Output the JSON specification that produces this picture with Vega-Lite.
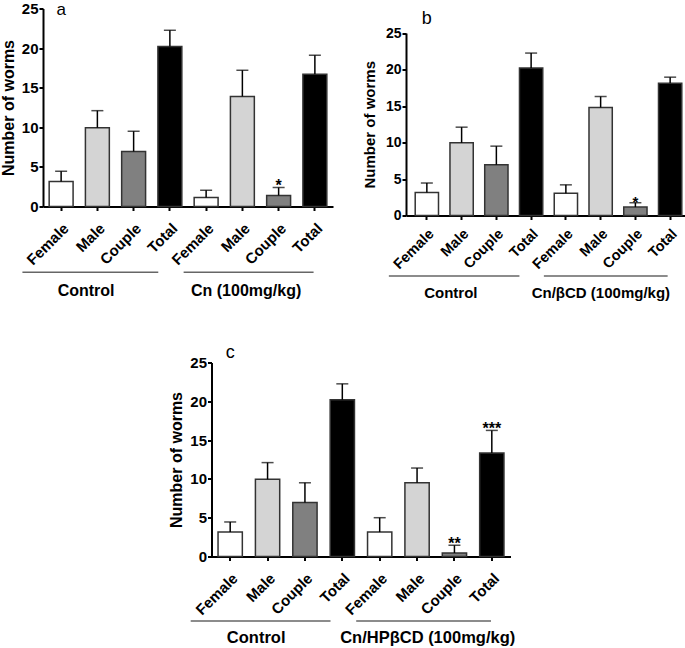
{
"$schema": "https://vega.github.io/schema/vega-lite/v6.json",
"padding": {"left": 0, "top": 0.5, "right": 0, "bottom": 0},
"spacing": 42,
"center": true,
"config": {
 "font": "Liberation Sans",
 "view": {"stroke": null},
 "axis": {"domainColor": "#000", "domainWidth": 2, "tickColor": "#000", "tickWidth": 2, "tickSize": 4, "labelColor": "#000", "labelFontWeight": "bold", "titleColor": "#000", "titleFontWeight": "bold", "grid": false, "labelFont": "Liberation Sans", "titleFont": "Liberation Sans"},
 "axisX": {"labelAngle": -45, "labelPadding": 10},
 "axisY": {"labelPadding": 1, "titlePadding": 5, "labelOverlap": false},
 "text": {"font": "Liberation Sans"}
},
"datasets": {
 "bars": [
  {"panel": "a", "id": "C|Female", "sex": "Female", "mean": 3.15, "upper": 4.45, "sig": ""},
  {"panel": "a", "id": "C|Male", "sex": "Male", "mean": 9.95, "upper": 12.1, "sig": ""},
  {"panel": "a", "id": "C|Couple", "sex": "Couple", "mean": 6.95, "upper": 9.5, "sig": ""},
  {"panel": "a", "id": "C|Total", "sex": "Total", "mean": 20.2, "upper": 22.25, "sig": ""},
  {"panel": "a", "id": "T|Female", "sex": "Female", "mean": 1.15, "upper": 2.05, "sig": ""},
  {"panel": "a", "id": "T|Male", "sex": "Male", "mean": 13.9, "upper": 17.2, "sig": ""},
  {"panel": "a", "id": "T|Couple", "sex": "Couple", "mean": 1.4, "upper": 2.4, "sig": "*"},
  {"panel": "a", "id": "T|Total", "sex": "Total", "mean": 16.7, "upper": 19.1, "sig": ""},
  {"panel": "b", "id": "C|Female", "sex": "Female", "mean": 3.15, "upper": 4.45, "sig": ""},
  {"panel": "b", "id": "C|Male", "sex": "Male", "mean": 9.95, "upper": 12.1, "sig": ""},
  {"panel": "b", "id": "C|Couple", "sex": "Couple", "mean": 6.95, "upper": 9.5, "sig": ""},
  {"panel": "b", "id": "C|Total", "sex": "Total", "mean": 20.2, "upper": 22.25, "sig": ""},
  {"panel": "b", "id": "T|Female", "sex": "Female", "mean": 3.05, "upper": 4.2, "sig": ""},
  {"panel": "b", "id": "T|Male", "sex": "Male", "mean": 14.8, "upper": 16.3, "sig": ""},
  {"panel": "b", "id": "T|Couple", "sex": "Couple", "mean": 1.15, "upper": 1.75, "sig": "*"},
  {"panel": "b", "id": "T|Total", "sex": "Total", "mean": 18.1, "upper": 18.95, "sig": ""},
  {"panel": "c", "id": "C|Female", "sex": "Female", "mean": 3.15, "upper": 4.45, "sig": ""},
  {"panel": "c", "id": "C|Male", "sex": "Male", "mean": 9.95, "upper": 12.1, "sig": ""},
  {"panel": "c", "id": "C|Couple", "sex": "Couple", "mean": 6.95, "upper": 9.5, "sig": ""},
  {"panel": "c", "id": "C|Total", "sex": "Total", "mean": 20.2, "upper": 22.25, "sig": ""},
  {"panel": "c", "id": "T|Female", "sex": "Female", "mean": 3.15, "upper": 5.0, "sig": ""},
  {"panel": "c", "id": "T|Male", "sex": "Male", "mean": 9.5, "upper": 11.4, "sig": ""},
  {"panel": "c", "id": "T|Couple", "sex": "Couple", "mean": 0.45, "upper": 1.45, "sig": "**"},
  {"panel": "c", "id": "T|Total", "sex": "Total", "mean": 13.35, "upper": 16.25, "sig": "***"}
 ],
 "groups": [
  {"panel": "a", "grp": "C", "label": "Control", "first": "C|Female", "last": "C|Total"},
  {"panel": "a", "grp": "T", "label": "Cn (100mg/kg)", "first": "T|Female", "last": "T|Total"},
  {"panel": "b", "grp": "C", "label": "Control", "first": "C|Female", "last": "C|Total"},
  {"panel": "b", "grp": "T", "label": "Cn/βCD (100mg/kg)", "first": "T|Female", "last": "T|Total"},
  {"panel": "c", "grp": "C", "label": "Control", "first": "C|Female", "last": "C|Total"},
  {"panel": "c", "grp": "T", "label": "Cn/HPβCD (100mg/kg)", "first": "T|Female", "last": "T|Total"}
 ]
},
"vconcat": [
 {"hconcat": [
  {"width": 290, "height": 198,
   "layer": [
    {"data": {"name": "bars"}, "transform": [{"filter": "datum.panel==='a'"}],
     "mark": {"type": "bar", "width": {"band": 0.66}, "stroke": "#333", "strokeWidth": 1.5},
     "encoding": {
      "x": {"field": "id", "type": "nominal", "title": null, "scale": {"domain": ["C|Female","C|Male","C|Couple","C|Total","T|Female","T|Male","T|Couple","T|Total"], "paddingInner": 0, "paddingOuter": 0}, "axis": {"labelExpr": "split(datum.label,'|')[1]", "labelFontSize": 15}},
      "y": {"field": "mean", "type": "quantitative", "title": "Number of worms", "scale": {"domain": [0, 25], "nice": false}, "axis": {"values": [0,5,10,15,20,25], "tickCount": 6, "labelFontSize": 15, "titleFontSize": 16}},
      "color": {"field": "sex", "type": "nominal", "scale": {"domain": ["Female","Male","Couple","Total"], "range": ["#ffffff","#d4d4d4","#808080","#000000"]}, "legend": null}
     }},
    {"data": {"name": "bars"}, "transform": [{"filter": "datum.panel==='a'"}],
     "mark": {"type": "rule", "color": "#000", "strokeWidth": 1.5},
     "encoding": {"x": {"field": "id", "type": "nominal", "title": null}, "y": {"field": "mean", "type": "quantitative", "title": "Number of worms", "axis": {"values": [0,5,10,15,20,25], "tickCount": 6, "labelFontSize": 15, "titleFontSize": 16}}, "y2": {"field": "upper"}}},
    {"data": {"name": "bars"}, "transform": [{"filter": "datum.panel==='a'"}],
     "mark": {"type": "tick", "color": "#000", "size": 12, "thickness": 1.5, "orient": "horizontal"},
     "encoding": {"x": {"field": "id", "type": "nominal", "title": null}, "y": {"field": "upper", "type": "quantitative", "title": "Number of worms", "axis": {"values": [0,5,10,15,20,25], "tickCount": 6, "labelFontSize": 15, "titleFontSize": 16}}}},
    {"data": {"name": "bars"}, "transform": [{"filter": "datum.panel==='a' && datum.sig!==''"}],
     "mark": {"type": "text", "fontSize": 16, "fontWeight": "bold", "baseline": "alphabetic", "dy": 4, "color": "#000"},
     "encoding": {"x": {"field": "id", "type": "nominal", "title": null}, "y": {"field": "upper", "type": "quantitative", "title": "Number of worms", "axis": {"values": [0,5,10,15,20,25], "tickCount": 6, "labelFontSize": 15, "titleFontSize": 16}}, "text": {"field": "sig"}}},
    {"data": {"name": "groups"}, "transform": [{"filter": "datum.panel==='a' && datum.grp==='C'"}],
     "mark": {"type": "rule", "color": "#666", "strokeWidth": 1.5, "xOffset": -38.7, "x2Offset": -11.6},
     "encoding": {"x": {"field": "first", "type": "nominal", "title": null}, "x2": {"field": "last"}, "y": {"datum": -8.3, "type": "quantitative", "title": "Number of worms", "axis": {"values": [0,5,10,15,20,25], "tickCount": 6, "labelFontSize": 15, "titleFontSize": 16}}}},
    {"data": {"name": "groups"}, "transform": [{"filter": "datum.panel==='a' && datum.grp==='T'"}],
     "mark": {"type": "rule", "color": "#666", "strokeWidth": 1.5, "xOffset": -22.5, "x2Offset": -1.3},
     "encoding": {"x": {"field": "first", "type": "nominal", "title": null}, "x2": {"field": "last"}, "y": {"datum": -8.3, "type": "quantitative", "title": "Number of worms", "axis": {"values": [0,5,10,15,20,25], "tickCount": 6, "labelFontSize": 15, "titleFontSize": 16}}}},
    {"data": {"name": "groups"}, "transform": [{"filter": "datum.panel==='a' && datum.grp==='C'"}],
     "mark": {"type": "text", "fontSize": 16, "fontWeight": "bold", "color": "#000", "dx": 25, "baseline": "alphabetic", "align": "center"},
     "encoding": {"x": {"field": "first", "type": "nominal", "title": null}, "y": {"datum": -11.3, "type": "quantitative", "title": "Number of worms", "axis": {"values": [0,5,10,15,20,25], "tickCount": 6, "labelFontSize": 15, "titleFontSize": 16}}, "text": {"field": "label"}}},
    {"data": {"name": "groups"}, "transform": [{"filter": "datum.panel==='a' && datum.grp==='T'"}],
     "mark": {"type": "text", "fontSize": 16, "fontWeight": "bold", "color": "#000", "dx": 40, "baseline": "alphabetic", "align": "center"},
     "encoding": {"x": {"field": "first", "type": "nominal", "title": null}, "y": {"datum": -11.3, "type": "quantitative", "title": "Number of worms", "axis": {"values": [0,5,10,15,20,25], "tickCount": 6, "labelFontSize": 15, "titleFontSize": 16}}, "text": {"field": "label"}}},
    {"data": {"values": [{"letter": "a"}]},
     "mark": {"type": "text", "fontSize": 17, "baseline": "alphabetic", "align": "center", "color": "#000"},
     "encoding": {"x": {"datum": "C|Female", "type": "nominal", "title": null}, "y": {"datum": 24.12, "type": "quantitative", "title": "Number of worms", "axis": {"values": [0,5,10,15,20,25], "tickCount": 6, "labelFontSize": 15, "titleFontSize": 16}}, "text": {"field": "letter"}}}
   ]},
  {"width": 285, "height": 207,
   "layer": [
    {"data": {"name": "bars"}, "transform": [{"filter": "datum.panel==='b'"}],
     "mark": {"type": "bar", "width": {"band": 0.67}, "stroke": "#333", "strokeWidth": 1.5},
     "encoding": {
      "x": {"field": "id", "type": "nominal", "title": null, "scale": {"domain": ["C|Female","C|Male","C|Couple","C|Total","T|Female","T|Male","T|Couple","T|Total"], "paddingInner": 0, "paddingOuter": 0.1}, "axis": {"labelExpr": "split(datum.label,'|')[1]", "labelFontSize": 14.5, "labelPadding": 7}},
      "y": {"field": "mean", "type": "quantitative", "title": "Number of worms", "scale": {"domain": [0, 25], "nice": false, "range": [207, 24.5]}, "axis": {"values": [0,5,10,15,20,25], "labelFontSize": 14, "titleFontSize": 15, "titlePadding": 8}},
      "color": {"field": "sex", "type": "nominal", "scale": {"domain": ["Female","Male","Couple","Total"], "range": ["#ffffff","#d4d4d4","#808080","#000000"]}, "legend": null}
     }},
    {"data": {"name": "bars"}, "transform": [{"filter": "datum.panel==='b'"}],
     "mark": {"type": "rule", "color": "#000", "strokeWidth": 1.5},
     "encoding": {"x": {"field": "id", "type": "nominal", "title": null}, "y": {"field": "mean", "type": "quantitative", "title": "Number of worms"}, "y2": {"field": "upper"}}},
    {"data": {"name": "bars"}, "transform": [{"filter": "datum.panel==='b'"}],
     "mark": {"type": "tick", "color": "#000", "size": 12, "thickness": 1.5, "orient": "horizontal"},
     "encoding": {"x": {"field": "id", "type": "nominal", "title": null}, "y": {"field": "upper", "type": "quantitative", "title": "Number of worms"}}},
    {"data": {"name": "bars"}, "transform": [{"filter": "datum.panel==='b' && datum.sig!==''"}],
     "mark": {"type": "text", "fontSize": 15, "fontWeight": "bold", "baseline": "alphabetic", "dy": 4, "color": "#000"},
     "encoding": {"x": {"field": "id", "type": "nominal", "title": null}, "y": {"field": "upper", "type": "quantitative", "title": "Number of worms"}, "text": {"field": "sig"}}},
    {"data": {"name": "groups"}, "transform": [{"filter": "datum.panel==='b' && datum.grp==='C'"}],
     "mark": {"type": "rule", "color": "#666", "strokeWidth": 1.5, "xOffset": -38, "x2Offset": -11.7},
     "encoding": {"x": {"field": "first", "type": "nominal", "title": null}, "x2": {"field": "last"}, "y": {"datum": -8.3, "type": "quantitative", "title": "Number of worms"}}},
    {"data": {"name": "groups"}, "transform": [{"filter": "datum.panel==='b' && datum.grp==='T'"}],
     "mark": {"type": "rule", "color": "#666", "strokeWidth": 1.5, "xOffset": -22, "x2Offset": -2.5},
     "encoding": {"x": {"field": "first", "type": "nominal", "title": null}, "x2": {"field": "last"}, "y": {"datum": -8.3, "type": "quantitative", "title": "Number of worms"}}},
    {"data": {"name": "groups"}, "transform": [{"filter": "datum.panel==='b' && datum.grp==='C'"}],
     "mark": {"type": "text", "fontSize": 15, "fontWeight": "bold", "color": "#000", "dx": 24, "baseline": "alphabetic", "align": "center"},
     "encoding": {"x": {"field": "first", "type": "nominal", "title": null}, "y": {"datum": -11.3, "type": "quantitative", "title": "Number of worms"}, "text": {"field": "label"}}},
    {"data": {"name": "groups"}, "transform": [{"filter": "datum.panel==='b' && datum.grp==='T'"}],
     "mark": {"type": "text", "fontSize": 15, "fontWeight": "bold", "color": "#000", "dx": 35, "baseline": "alphabetic", "align": "center"},
     "encoding": {"x": {"field": "first", "type": "nominal", "title": null}, "y": {"datum": -11.3, "type": "quantitative", "title": "Number of worms"}, "text": {"field": "label"}}},
    {"data": {"values": [{"letter": "b"}]},
     "mark": {"type": "text", "fontSize": 18, "baseline": "alphabetic", "align": "center", "color": "#000"},
     "encoding": {"x": {"datum": "C|Female", "type": "nominal", "title": null}, "y": {"datum": 26.23, "type": "quantitative", "title": "Number of worms"}, "text": {"field": "letter"}}}
   ]}
 ], "spacing": 29},
 {"width": 311, "height": 194,
  "layer": [
   {"data": {"name": "bars"}, "transform": [{"filter": "datum.panel==='c'"}],
    "mark": {"type": "bar", "width": {"band": 0.65}, "stroke": "#333", "strokeWidth": 1.5},
    "encoding": {
     "x": {"field": "id", "type": "nominal", "title": null, "scale": {"domain": ["C|Female","C|Male","C|Couple","C|Total","T|Female","T|Male","T|Couple","T|Total"], "paddingInner": 0, "paddingOuter": 0, "range": [0, 299]}, "axis": {"labelExpr": "split(datum.label,'|')[1]", "labelFontSize": 15}},
     "y": {"field": "mean", "type": "quantitative", "title": "Number of worms", "scale": {"domain": [0, 25], "nice": false}, "axis": {"values": [0,5,10,15,20,25], "tickCount": 6, "labelFontSize": 15, "titleFontSize": 16}},
     "color": {"field": "sex", "type": "nominal", "scale": {"domain": ["Female","Male","Couple","Total"], "range": ["#ffffff","#d4d4d4","#808080","#000000"]}, "legend": null}
    }},
   {"data": {"name": "bars"}, "transform": [{"filter": "datum.panel==='c'"}],
    "mark": {"type": "rule", "color": "#000", "strokeWidth": 1.5},
    "encoding": {"x": {"field": "id", "type": "nominal", "title": null}, "y": {"field": "mean", "type": "quantitative", "title": "Number of worms", "axis": {"values": [0,5,10,15,20,25], "tickCount": 6, "labelFontSize": 15, "titleFontSize": 16}}, "y2": {"field": "upper"}}},
   {"data": {"name": "bars"}, "transform": [{"filter": "datum.panel==='c'"}],
    "mark": {"type": "tick", "color": "#000", "size": 12, "thickness": 1.5, "orient": "horizontal"},
    "encoding": {"x": {"field": "id", "type": "nominal", "title": null}, "y": {"field": "upper", "type": "quantitative", "title": "Number of worms", "axis": {"values": [0,5,10,15,20,25], "tickCount": 6, "labelFontSize": 15, "titleFontSize": 16}}}},
   {"data": {"name": "bars"}, "transform": [{"filter": "datum.panel==='c' && datum.sig!==''"}],
    "mark": {"type": "text", "fontSize": 16, "fontWeight": "bold", "baseline": "alphabetic", "dy": 4, "color": "#000"},
    "encoding": {"x": {"field": "id", "type": "nominal", "title": null}, "y": {"field": "upper", "type": "quantitative", "title": "Number of worms", "axis": {"values": [0,5,10,15,20,25], "tickCount": 6, "labelFontSize": 15, "titleFontSize": 16}}, "text": {"field": "sig"}}},
   {"data": {"name": "groups"}, "transform": [{"filter": "datum.panel==='c' && datum.grp==='C'"}],
    "mark": {"type": "rule", "color": "#666", "strokeWidth": 1.5, "xOffset": -39.5, "x2Offset": -11.8},
    "encoding": {"x": {"field": "first", "type": "nominal", "title": null}, "x2": {"field": "last"}, "y": {"datum": -8.3, "type": "quantitative", "title": "Number of worms", "axis": {"values": [0,5,10,15,20,25], "tickCount": 6, "labelFontSize": 15, "titleFontSize": 16}}}},
   {"data": {"name": "groups"}, "transform": [{"filter": "datum.panel==='c' && datum.grp==='T'"}],
    "mark": {"type": "rule", "color": "#666", "strokeWidth": 1.5, "xOffset": -23.5, "x2Offset": -0.8},
    "encoding": {"x": {"field": "first", "type": "nominal", "title": null}, "x2": {"field": "last"}, "y": {"datum": -8.3, "type": "quantitative", "title": "Number of worms", "axis": {"values": [0,5,10,15,20,25], "tickCount": 6, "labelFontSize": 15, "titleFontSize": 16}}}},
   {"data": {"name": "groups"}, "transform": [{"filter": "datum.panel==='c' && datum.grp==='C'"}],
    "mark": {"type": "text", "fontSize": 16.5, "fontWeight": "bold", "color": "#000", "dx": 26, "baseline": "alphabetic", "align": "center"},
    "encoding": {"x": {"field": "first", "type": "nominal", "title": null}, "y": {"datum": -11.2, "type": "quantitative", "title": "Number of worms", "axis": {"values": [0,5,10,15,20,25], "tickCount": 6, "labelFontSize": 15, "titleFontSize": 16}}, "text": {"field": "label"}}},
   {"data": {"name": "groups"}, "transform": [{"filter": "datum.panel==='c' && datum.grp==='T'"}],
    "mark": {"type": "text", "fontSize": 16.5, "fontWeight": "bold", "color": "#000", "dx": 48, "baseline": "alphabetic", "align": "center"},
    "encoding": {"x": {"field": "first", "type": "nominal", "title": null}, "y": {"datum": -11.2, "type": "quantitative", "title": "Number of worms", "axis": {"values": [0,5,10,15,20,25], "tickCount": 6, "labelFontSize": 15, "titleFontSize": 16}}, "text": {"field": "label"}}},
   {"data": {"values": [{"letter": "c"}]},
    "mark": {"type": "text", "fontSize": 18, "baseline": "alphabetic", "align": "center", "color": "#000"},
    "encoding": {"x": {"datum": "C|Female", "type": "nominal", "title": null}, "y": {"datum": 25.64, "type": "quantitative", "title": "Number of worms", "axis": {"values": [0,5,10,15,20,25], "tickCount": 6, "labelFontSize": 15, "titleFontSize": 16}}, "text": {"field": "letter"}}}
  ]}
]
}
